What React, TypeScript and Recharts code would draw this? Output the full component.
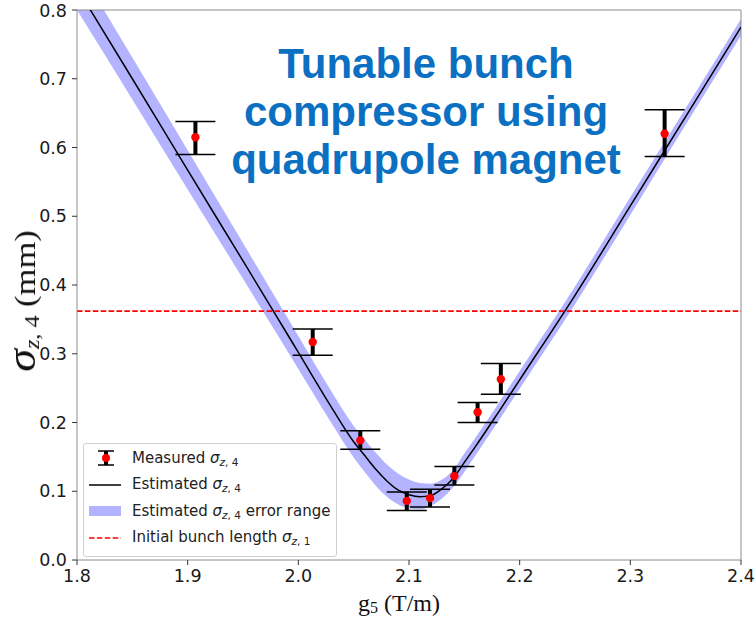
import React from "react";
import {
  ComposedChart, Area, Line, Scatter, ErrorBar, XAxis, YAxis, ReferenceLine,
} from "recharts";

// g5 grid for the fitted curve and its error band
const gGrid = [1.80, 1.85, 1.90, 1.95, 2.00, 2.03, 2.05, 2.06, 2.07, 2.08, 2.09, 2.10, 2.11, 2.12, 2.13, 2.14, 2.15, 2.16, 2.18, 2.20, 2.25, 2.30, 2.35, 2.40];
const estSigma = [0.832, 0.700, 0.567, 0.435, 0.302, 0.222, 0.172, 0.152, 0.132, 0.115, 0.102, 0.095, 0.092, 0.094, 0.104, 0.119, 0.142, 0.165, 0.213, 0.262, 0.385, 0.515, 0.645, 0.775];
const estLow = [0.800, 0.670, 0.539, 0.409, 0.278, 0.199, 0.149, 0.128, 0.108, 0.092, 0.081, 0.075, 0.074, 0.079, 0.090, 0.106, 0.128, 0.152, 0.200, 0.249, 0.372, 0.502, 0.633, 0.763];
const estHigh = [0.865, 0.731, 0.596, 0.461, 0.326, 0.245, 0.195, 0.175, 0.156, 0.139, 0.126, 0.117, 0.112, 0.111, 0.117, 0.131, 0.155, 0.178, 0.226, 0.275, 0.398, 0.528, 0.657, 0.787];

// measured bunch lengths with error bar ends
const measG = [1.907, 2.013, 2.056, 2.098, 2.119, 2.141, 2.162, 2.183, 2.331];
const measSigma = [0.615, 0.317, 0.174, 0.086, 0.090, 0.122, 0.215, 0.263, 0.620];
const measLow = [0.590, 0.298, 0.161, 0.072, 0.077, 0.109, 0.200, 0.241, 0.587];
const measHigh = [0.638, 0.336, 0.188, 0.099, 0.103, 0.136, 0.229, 0.286, 0.655];

const initialLength = 0.362;

const xTicks = [1.8, 1.9, 2.0, 2.1, 2.2, 2.3, 2.4];
const yTicks = [0, 0.1, 0.2, 0.3, 0.4, 0.5, 0.6, 0.7, 0.8];

const curve = gGrid.map((g, i) => ({
  g,
  est: estSigma[i],
  band: [estLow[i], estHigh[i]],
}));

const measured = measG.map((g, i) => ({
  g,
  s: measSigma[i],
  err: [measSigma[i] - measLow[i], measHigh[i] - measSigma[i]],
}));

const tickStyle = { fontSize: 17.5, fontFamily: "DejaVu Sans", fill: "#1a1a1a" };
const spine = "#8c8c8c";
const bandFill = "#b3b3ff";
const titleBlue = "#0b70c1";

const Dot = (p: any) => <circle cx={p.cx} cy={p.cy} r={4.2} fill="#ff0000" />;

const Sigma = ({ sub }: { sub: string }) => (
  <span>
    <i>σ</i>
    <sub style={{ fontSize: "0.7em", verticalAlign: "-0.3em" }}>
      <i>z</i>, {sub}
    </sub>
  </span>
);

function LegendBox() {
  const row: React.CSSProperties = { display: "flex", alignItems: "center", height: 26.5, whiteSpace: "nowrap" };
  const icon = { width: 38, height: 20, style: { marginRight: 6, flex: "none" } as React.CSSProperties };
  return (
    <div style={{
      position: "absolute", left: 83, top: 443, width: 254, height: 114,
      border: "1px solid #d0d0d0", borderRadius: 3, background: "#fff",
      fontFamily: "DejaVu Sans", fontSize: 15, color: "#222", padding: "1px 0 0 4px", boxSizing: "border-box",
    }}>
      <div style={row}>
        <svg {...icon}>
          <line x1={18} y1={3} x2={18} y2={17} stroke="#000" strokeWidth={4} />
          <line x1={10} y1={3} x2={26} y2={3} stroke="#000" strokeWidth={1.5} />
          <line x1={10} y1={17} x2={26} y2={17} stroke="#000" strokeWidth={1.5} />
          <circle cx={18} cy={10} r={4} fill="#ff0000" />
        </svg>
        <span>Measured <Sigma sub="4" /></span>
      </div>
      <div style={row}>
        <svg {...icon}>
          <line x1={1} y1={10} x2={33} y2={10} stroke="#000" strokeWidth={1.5} />
        </svg>
        <span>Estimated <Sigma sub="4" /></span>
      </div>
      <div style={row}>
        <svg {...icon}>
          <rect x={1} y={5} width={32} height={10} fill={bandFill} />
        </svg>
        <span>Estimated <Sigma sub="4" /> error range</span>
      </div>
      <div style={row}>
        <svg {...icon}>
          <line x1={1} y1={10} x2={33} y2={10} stroke="#ff0000" strokeWidth={1.5} strokeDasharray="5.5 2.4" />
        </svg>
        <span>Initial bunch length <Sigma sub="1" /></span>
      </div>
    </div>
  );
}

export default function App() {
  return (
    <div style={{ position: "fixed", left: 0, top: 0, width: 756, height: 620, background: "#fff" }}>
      <ComposedChart width={756} height={620} data={curve} margin={{ top: 10, right: 15, left: 0, bottom: 30 }}>
        <XAxis
          dataKey="g" type="number" domain={[1.8, 2.4]} ticks={xTicks} allowDataOverflow
          tickFormatter={(v: number) => v.toFixed(1)} tick={tickStyle} tickSize={5} tickMargin={5}
          height={30} stroke={spine} tickLine={{ stroke: "#333" }}
        />
        <YAxis
          type="number" domain={[0, 0.8]} ticks={yTicks} allowDataOverflow
          tickFormatter={(v: number) => v.toFixed(1)} tick={tickStyle} tickSize={5} tickMargin={5}
          width={77} stroke={spine} tickLine={{ stroke: "#333" }}
        />
        <ReferenceLine y={0.8} stroke={spine} />
        <ReferenceLine x={2.4} stroke={spine} />
        <Area dataKey="band" type="monotone" stroke="none" fill={bandFill} fillOpacity={1} isAnimationActive={false} />
        <Line dataKey="est" type="monotone" stroke="#000" strokeWidth={1.5} dot={false} isAnimationActive={false} />
        <ReferenceLine y={initialLength} stroke="#ff0000" strokeWidth={1.6} strokeDasharray="5.5 2.4" />
        <Scatter data={measured} dataKey="s" shape={Dot} isAnimationActive={false}>
          <ErrorBar dataKey="err" direction="y" width={20} stroke="#000" strokeWidth={1.5} />
          <ErrorBar dataKey="err" direction="y" width={0} stroke="#000" strokeWidth={4} />
        </Scatter>
      </ComposedChart>

      <div style={{
        position: "absolute", left: 126, top: 40, width: 600, textAlign: "center",
        fontFamily: "Liberation Sans", fontWeight: 700, fontSize: 42, lineHeight: "48px", color: titleBlue,
      }}>
        Tunable bunch<br />compressor using<br />quadrupole magnet
      </div>

      <LegendBox />

      <div style={{
        position: "absolute", left: -93, top: 284, width: 230, height: 34, lineHeight: "34px",
        transform: "rotate(-90deg) scaleX(1.15)", textAlign: "center", whiteSpace: "nowrap",
        fontFamily: "Liberation Serif", fontSize: 30, color: "#111",
      }}>
        <i style={{ fontSize: 40 }}>σ</i>
        <sub style={{ fontSize: 21, verticalAlign: "-0.2em" }}><i>z</i>, 4</sub> (mm)
      </div>

      <div style={{
        position: "absolute", left: 299, top: 590, width: 200, textAlign: "center",
        fontFamily: "Liberation Serif", fontSize: 24, color: "#111",
      }}>
        g<sub style={{ fontSize: 16, verticalAlign: "-0.15em" }}>5</sub> (T/m)
      </div>
    </div>
  );
}
